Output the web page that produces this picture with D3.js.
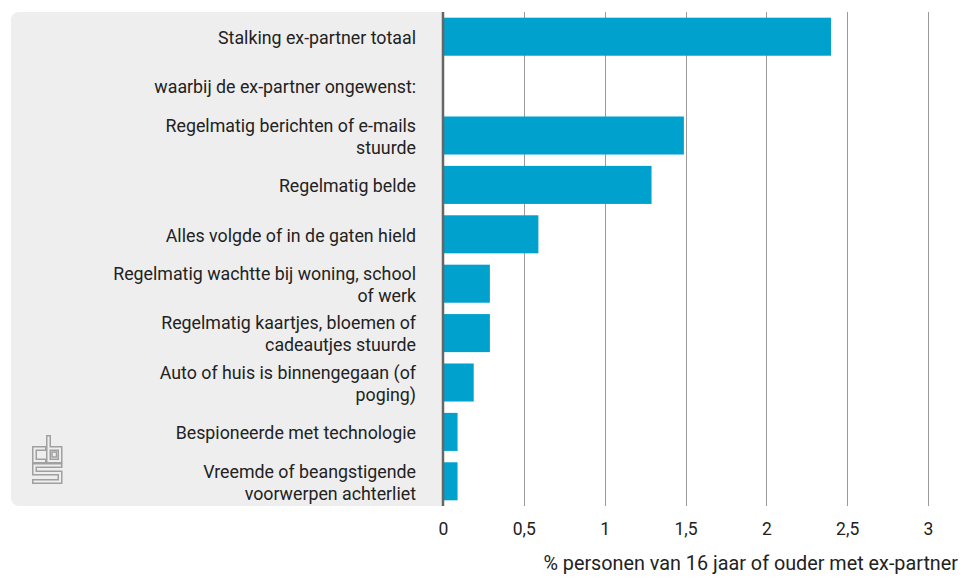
<!DOCTYPE html>
<html>
<head>
<meta charset="utf-8">
<script src="https://cdn.jsdelivr.net/npm/d3@7"></script>
<style>
  html, body { margin: 0; padding: 0; background: #fff; }
  svg text { font-family: Roboto, "Open Sans", sans-serif; fill: #222; }
</style>
</head>
<body>
<svg id="chart" width="966" height="577"></svg>
<script>
const categories = [
  "Stalking ex-partner totaal",
  "waarbij de ex-partner ongewenst:",
  "Regelmatig berichten of e-mails|stuurde",
  "Regelmatig belde",
  "Alles volgde of in de gaten hield",
  "Regelmatig wachtte bij woning, school|of werk",
  "Regelmatig kaartjes, bloemen of|cadeautjes stuurde",
  "Auto of huis is binnengegaan (of|poging)",
  "Bespioneerde met technologie",
  "Vreemde of beangstigende|voorwerpen achterliet"
];
const values = [2.4, null, 1.49, 1.29, 0.59, 0.29, 0.29, 0.19, 0.09, 0.09];
const tickValues = [0, 0.5, 1, 1.5, 2, 2.5, 3];
const tickLabels = ["0", "0,5", "1", "1,5", "2", "2,5", "3"];
const axisTitle = "% personen van 16 jaar of ouder met ex-partner";

const svg = d3.select("#chart");
const x0 = 443, x1 = 928, yTop = 12, yBot = 506;

const x = d3.scaleLinear().domain([0, 3]).range([x0, x1]);
const y = d3.scaleBand().domain(categories).range([yTop, yBot])
  .paddingInner(0.23).paddingOuter(0.115);

// grey label panel
svg.append("rect")
  .attr("x", 11).attr("y", yTop).attr("width", x0 - 11 + 4).attr("height", yBot - yTop)
  .attr("rx", 8).attr("fill", "#eeeeee");
svg.append("rect")
  .attr("x", x0 - 10).attr("y", yTop).attr("width", 14).attr("height", yBot - yTop)
  .attr("fill", "#ffffff");
svg.append("rect")
  .attr("x", x0 - 10).attr("y", yTop).attr("width", 10).attr("height", yBot - yTop)
  .attr("fill", "#eeeeee");

// gridlines
svg.append("g").selectAll("line")
  .data(tickValues.filter(d => d > 0))
  .join("line")
  .attr("x1", d => Math.round(x(d)) + 0.5).attr("x2", d => Math.round(x(d)) + 0.5)
  .attr("y1", yTop).attr("y2", yBot)
  .attr("stroke", "#9a9a9a").attr("stroke-width", 1);

// bars
svg.append("g").selectAll("rect")
  .data(categories.map((c, i) => ({c, v: values[i]})).filter(d => d.v != null))
  .join("rect")
  .attr("x", x(0)).attr("y", d => y(d.c))
  .attr("width", d => x(d.v) - x(0)).attr("height", y.bandwidth())
  .attr("fill", "#00a1cd");

// zero axis line
svg.append("line")
  .attr("x1", x0).attr("x2", x0).attr("y1", yTop).attr("y2", yBot)
  .attr("stroke", "#666666").attr("stroke-width", 2.5);

// category labels
const lblG = svg.append("g");
categories.forEach(c => {
  const lines = c.split("|");
  const cy = y(c) + y.bandwidth() / 2 + 1;
  const lh = 22;
  const t = lblG.append("text")
    .attr("x", 416).attr("text-anchor", "end")
    .attr("font-size", 17.8);
  lines.forEach((ln, i) => {
    t.append("tspan")
      .attr("x", 416)
      .attr("y", cy + (i - (lines.length - 1) / 2) * lh)
      .attr("dy", "0.35em")
      .text(ln);
  });
});

// x axis tick labels
const xAxis = d3.axisBottom(x).tickValues(tickValues)
  .tickFormat((d, i) => tickLabels[i]).tickSize(0).tickPadding(0);
const ax = svg.append("g").attr("transform", `translate(0, ${yBot + 17})`).call(xAxis);
ax.select(".domain").remove();
ax.selectAll("text").attr("font-size", 17.5).attr("fill", "#222")
  .attr("font-family", "Roboto, 'Open Sans', sans-serif");

svg.append("text")
  .attr("x", 958).attr("y", 570).attr("text-anchor", "end")
  .attr("font-size", 19.8).text(axisTitle);

// CBS logo
const logo = svg.append("g");
const paths = [
  "M44,448.5 H34.5 V461 H44",
  "M48.5,437.5 V461 H60 V448.5 H48.5",
  "M52,452 H56.5 V457 H52 Z",
  "M60,465.5 H34.5 V473 H60 V481.5 H34.5"
];
paths.forEach((p, i) => {
  logo.append("path").attr("d", p).attr("fill", "none")
    .attr("stroke", "#a0a0a0").attr("stroke-width", i === 2 ? 1.5 : 5)
    .attr("stroke-linejoin", "miter").attr("stroke-linecap", "square");
});
paths.forEach((p, i) => {
  if (i === 2) return;
  logo.append("path").attr("d", p).attr("fill", "none")
    .attr("stroke", "#eeeeee").attr("stroke-width", 2)
    .attr("stroke-linejoin", "miter").attr("stroke-linecap", "square");
});
</script>
</body>
</html>
